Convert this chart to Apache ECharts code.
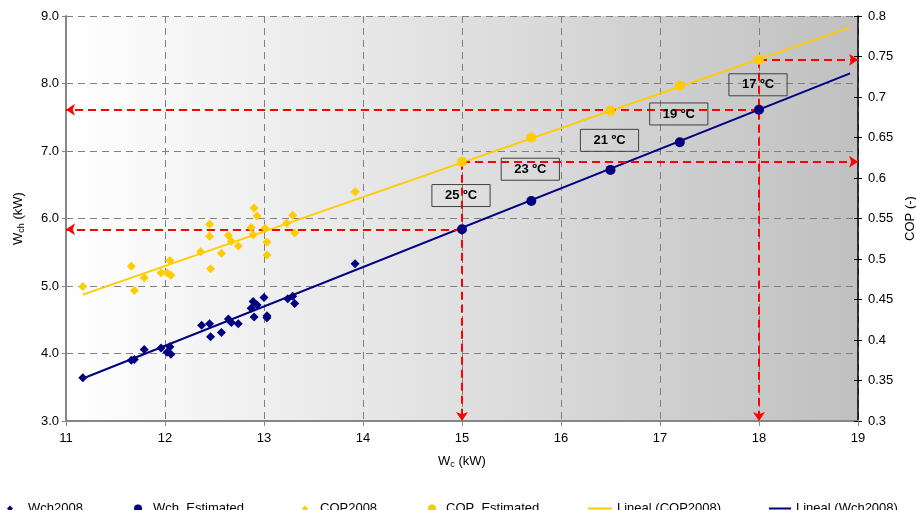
<!DOCTYPE html>
<html>
<head>
<meta charset="utf-8">
<script src="https://cdn.jsdelivr.net/npm/echarts@6/dist/echarts.min.js"></script>
<style>
  html, body { margin: 0; padding: 0; background: #fff; }
  #chart { width: 916px; height: 510px; }
</style>
</head>
<body>
<div id="chart"></div>
<script>
// Measured chiller data, 2008 season
const wch2008X = [11.17, 11.66, 11.69, 11.79, 11.96, 12.02, 12.05, 12.06, 12.37, 12.45, 12.46, 12.57, 12.64, 12.67, 12.74, 12.87, 12.89, 12.90, 12.93, 13.00, 13.03, 13.03, 13.24, 13.29, 13.31, 13.92];
const wch2008Y = [3.64, 3.90, 3.91, 4.06, 4.08, 4.02, 4.10, 3.99, 4.42, 4.44, 4.25, 4.31, 4.51, 4.46, 4.44, 4.67, 4.77, 4.54, 4.72, 4.83, 4.56, 4.53, 4.81, 4.85, 4.74, 5.33];
const cop2008X = [11.17, 11.66, 11.69, 11.79, 11.96, 12.02, 12.05, 12.06, 12.36, 12.45, 12.45, 12.46, 12.57, 12.64, 12.67, 12.74, 12.87, 12.89, 12.90, 12.93, 13.01, 13.03, 13.03, 13.23, 13.29, 13.31, 13.92];
const cop2008Y = [0.466, 0.491, 0.461, 0.477, 0.483, 0.483, 0.498, 0.480, 0.509, 0.543, 0.528, 0.488, 0.507, 0.529, 0.522, 0.516, 0.539, 0.530, 0.563, 0.553, 0.538, 0.521, 0.505, 0.544, 0.554, 0.532, 0.583];

// Estimated operating points per supply temperature
const estimatedX = [15, 15.7, 16.5, 17.2, 18];
const wchEstimated = [5.84, 6.26, 6.72, 7.13, 7.61];
const copEstimated = [0.620, 0.650, 0.683, 0.714, 0.746];
const tempLabels = ['25 ºC', '23 ºC', '21 ºC', '19 ºC', '17 ºC'];

// Linear trend lines (end points)
const trendX = [11.17, 18.92];
const trendWch = [3.63, 8.15];
const trendCop = [0.456, 0.786];

// Axis ranges
const xRange = [11, 19, 1];
const wchRange = [3, 9, 1];
const copRange = [0.3, 0.8, 0.05];

const FONT = 'Arial, "Liberation Sans", sans-serif';
const NAVY = '#000080';
const GOLD = '#FFCC00';
const RED = '#FF0000';

const pairs = (xs, ys) => xs.map((x, i) => [x, ys[i]]);

const guideStyle = { color: RED, width: 2, type: [8, 5] };
const guideLine = (from, to) => [{ coord: from }, { coord: to }];

const first = 0, last = estimatedX.length - 1;

const chart = echarts.init(document.getElementById('chart'), null, { renderer: 'canvas' });

const legendItems = [
  { name: 'Wch2008', left: 7, icon: 'diamond', w: 6, h: 6, pad: 10 },
  { name: 'Wch_Estimated', left: 134, icon: 'circle', w: 8, h: 8, pad: 6 },
  { name: 'COP2008', left: 302, icon: 'diamond', w: 6, h: 6, pad: 7 },
  { name: 'COP_Estimated', left: 428, icon: 'circle', w: 8, h: 8, pad: 5 },
  { name: 'Lineal (COP2008)', left: 588, icon: 'rect', w: 24, h: 2, pad: 0 },
  { name: 'Lineal (Wch2008)', left: 769, icon: 'rect', w: 22, h: 2, pad: 0 }
];

const option = {
  animation: false,
  textStyle: { fontFamily: FONT },
  grid: {
    left: 66, right: 58, top: 16, bottom: 89,
    outerBoundsMode: 'none',
    containLabel: false,
    show: true,
    borderWidth: 0,
    backgroundColor: new echarts.graphic.LinearGradient(0, 0, 1, 0, [
      { offset: 0, color: '#FFFFFF' },
      { offset: 1, color: '#C0C0C0' }
    ])
  },
  legend: legendItems.map(it => ({
    data: [it.name],
    left: it.left,
    top: 502,
    icon: it.icon,
    itemWidth: it.w,
    itemHeight: it.h,
    selectedMode: false,
    padding: 0,
    textStyle: { fontSize: 13, color: '#000', fontFamily: FONT, padding: [0, 0, 0, it.pad] }
  })),
  xAxis: {
    type: 'value',
    min: xRange[0], max: xRange[1], interval: xRange[2],
    name: '{m|W}{s|c}{m| (kW)}',
    nameLocation: 'middle',
    nameGap: 33,
    nameTextStyle: {
      rich: {
        m: { fontSize: 13, color: '#000', fontFamily: FONT },
        s: { fontSize: 9, color: '#000', fontFamily: FONT, padding: [6, 0, 0, 0] }
      }
    },
    axisLine: { lineStyle: { color: '#868686', width: 2 } },
    axisTick: { length: 5, lineStyle: { color: '#868686' } },
    axisLabel: { fontSize: 13, color: '#000', margin: 11 },
    splitLine: { show: true, lineStyle: { color: '#808080', type: [7, 5], width: 1 } }
  },
  yAxis: [
    {
      type: 'value',
      position: 'left',
      min: wchRange[0], max: wchRange[1], interval: wchRange[2],
      name: '{m|W}{s|ch}{m| (kW)}',
      nameLocation: 'middle',
      nameRotate: 90,
      nameGap: 40,
      nameTextStyle: {
        rich: {
          m: { fontSize: 13, color: '#000', fontFamily: FONT },
          s: { fontSize: 9, color: '#000', fontFamily: FONT, padding: [6, 0, 0, 0] }
        }
      },
      axisLine: { show: true, lineStyle: { color: '#868686', width: 2 } },
      axisTick: { show: true, length: 4, lineStyle: { color: '#868686' } },
      axisLabel: { fontSize: 13, color: '#000', margin: 7, formatter: v => v.toFixed(1) },
      splitLine: { show: true, lineStyle: { color: '#808080', type: [7, 5], width: 1 } }
    },
    {
      type: 'value',
      position: 'right',
      min: copRange[0], max: copRange[1], interval: copRange[2],
      name: 'COP (-)',
      nameLocation: 'middle',
      nameRotate: 90,
      nameGap: 40,
      nameTextStyle: { fontSize: 13, color: '#000', fontFamily: FONT },
      axisLine: { show: true, lineStyle: { color: '#000', width: 1.5 } },
      axisTick: { show: true, length: 4, lineStyle: { color: '#000' } },
      axisLabel: { fontSize: 13, color: '#000', margin: 10, formatter: v => String(Math.round(v * 100) / 100) },
      splitLine: { show: false }
    },
    {
      // inner half of the crossing ticks on the COP axis
      type: 'value',
      position: 'right',
      min: copRange[0], max: copRange[1], interval: copRange[2],
      axisLine: { show: false },
      axisTick: { show: true, inside: true, length: 4, lineStyle: { color: '#000' } },
      axisLabel: { show: false },
      splitLine: { show: false }
    }
  ],
  series: [
    {
      name: 'Wch2008',
      type: 'scatter',
      yAxisIndex: 0,
      symbol: 'diamond',
      symbolSize: 9,
      itemStyle: { color: NAVY, opacity: 1 },
      z: 5,
      data: pairs(wch2008X, wch2008Y)
    },
    {
      name: 'Wch_Estimated',
      type: 'scatter',
      yAxisIndex: 0,
      symbol: 'circle',
      symbolSize: 10,
      itemStyle: { color: NAVY, opacity: 1 },
      z: 6,
      data: pairs(estimatedX, wchEstimated),
      markLine: {
        silent: true,
        symbol: ['none', 'arrow'],
        symbolSize: 9,
        label: { show: false },
        lineStyle: guideStyle,
        data: [
          guideLine([estimatedX[first], wchEstimated[first]], [xRange[0], wchEstimated[first]]),
          guideLine([estimatedX[last], wchEstimated[last]], [xRange[0], wchEstimated[last]])
        ]
      }
    },
    {
      name: 'COP2008',
      type: 'scatter',
      yAxisIndex: 1,
      symbol: 'diamond',
      symbolSize: 9,
      itemStyle: { color: GOLD, opacity: 1 },
      z: 5,
      data: pairs(cop2008X, cop2008Y)
    },
    {
      name: 'COP_Estimated',
      type: 'scatter',
      yAxisIndex: 1,
      symbol: 'circle',
      symbolSize: 10,
      itemStyle: { color: GOLD, opacity: 1 },
      z: 6,
      data: pairs(estimatedX, copEstimated),
      markLine: {
        silent: true,
        symbol: ['none', 'arrow'],
        symbolSize: 9,
        label: { show: false },
        lineStyle: guideStyle,
        data: [
          guideLine([estimatedX[first], copEstimated[first]], [xRange[1], copEstimated[first]]),
          guideLine([estimatedX[first], copEstimated[first]], [estimatedX[first], copRange[0]]),
          guideLine([estimatedX[last], copEstimated[last]], [xRange[1], copEstimated[last]]),
          guideLine([estimatedX[last], copEstimated[last]], [estimatedX[last], copRange[0]])
        ]
      }
    },
    {
      name: 'Lineal (COP2008)',
      type: 'line',
      yAxisIndex: 1,
      showSymbol: false,
      symbol: 'none',
      lineStyle: { color: GOLD, width: 2 },
      itemStyle: { color: GOLD },
      z: 3,
      data: pairs(trendX, trendCop)
    },
    {
      name: 'Lineal (Wch2008)',
      type: 'line',
      yAxisIndex: 0,
      showSymbol: false,
      symbol: 'none',
      lineStyle: { color: NAVY, width: 2 },
      itemStyle: { color: NAVY },
      z: 3,
      data: pairs(trendX, trendWch)
    }
  ]
};

chart.setOption(option);

// Temperature tags sit midway between each pair of estimated points
const tags = estimatedX.map((x, i) => {
  const a = chart.convertToPixel({ seriesIndex: 1 }, [x, wchEstimated[i]]);
  const b = chart.convertToPixel({ seriesIndex: 3 }, [x, copEstimated[i]]);
  return {
    type: 'text',
    x: (a[0] + b[0]) / 2 - 1,
    y: (a[1] + b[1]) / 2,
    z: 100,
    silent: true,
    style: {
      text: tempLabels[i],
      font: 'bold 13px ' + FONT,
      fill: '#000',
      align: 'center',
      verticalAlign: 'middle',
      borderColor: '#404040',
      borderWidth: 1,
      padding: [5, 13, 4, 13]
    }
  };
});
chart.setOption({ graphic: tags });
</script>
</body>
</html>
